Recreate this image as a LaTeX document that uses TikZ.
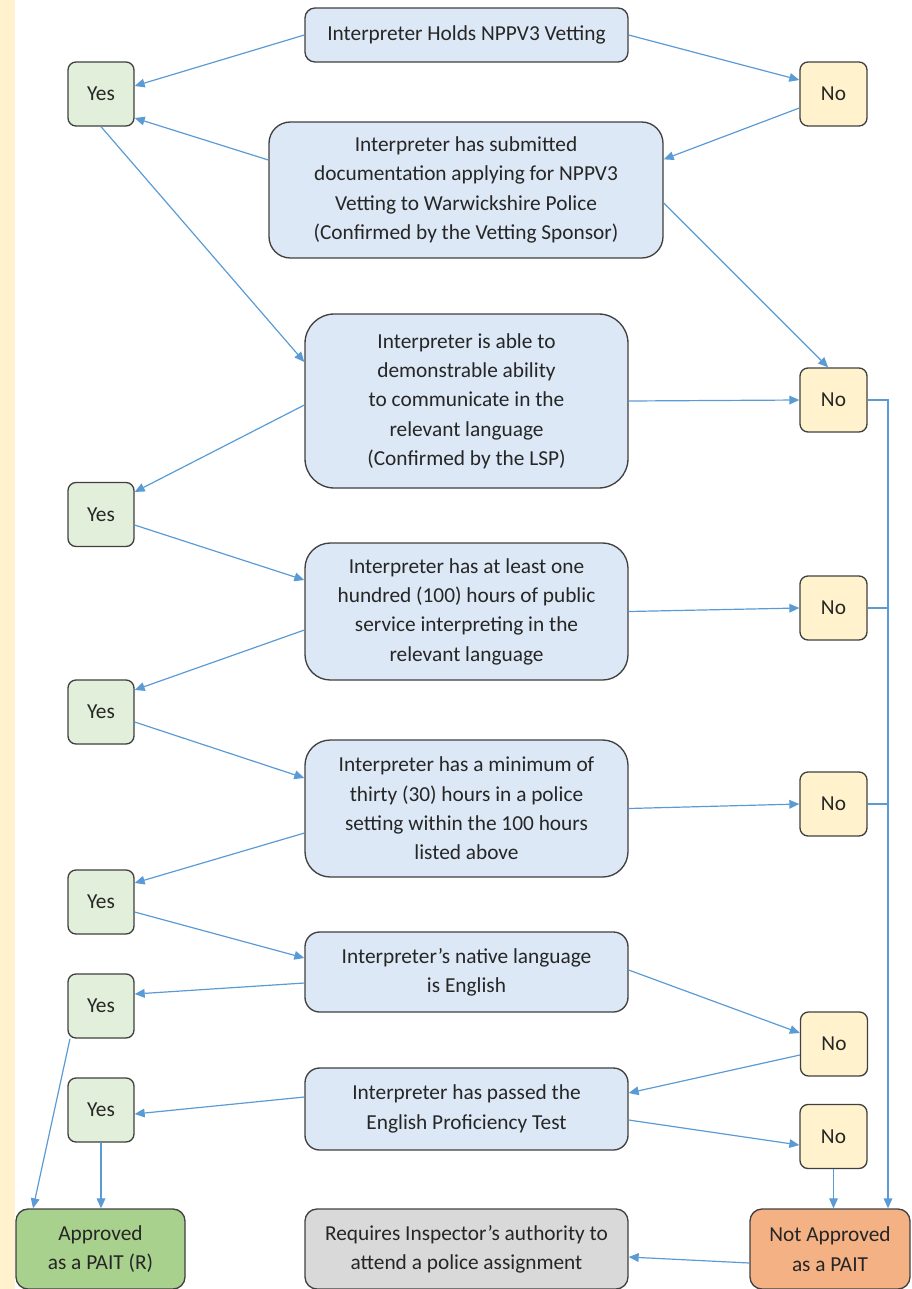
\documentclass[tikz,border=0pt]{standalone}
\usepackage{fontspec}
\setmainfont{Carlito}
\usetikzlibrary{arrows.meta,calc}
\definecolor{qfill}{HTML}{DCE8F5}
\definecolor{yfill}{HTML}{E2EFDA}
\definecolor{nfill}{HTML}{FFF2CC}
\definecolor{afill}{HTML}{A9D18E}
\definecolor{rfill}{HTML}{D9D9D9}
\definecolor{xfill}{HTML}{F4B183}
\definecolor{bord}{HTML}{404040}
\definecolor{arr}{HTML}{5B9BD5}
\definecolor{txt}{HTML}{262626}
\definecolor{strip}{HTML}{FFF2CC}
\tikzset{
  base/.style={draw=bord, line width=1pt, align=center, inner sep=0pt, text=txt,
    font=\fontsize{16}{22}\selectfont},
  sz/.style 2 args={minimum width=#1*0.75pt, minimum height=#2*0.75pt},
  qbox/.style={base, fill=qfill},
  ybox/.style={base, fill=yfill, rounded corners=6pt, sz={66}{64}},
  nbox/.style={base, fill=nfill, rounded corners=6pt, sz={67}{64}},
  conn/.style={draw=arr, line width=0.9pt, -{Triangle[length=7.5pt,width=6.5pt]}},
  plain/.style={draw=arr, line width=0.9pt}
}
\begin{document}
\begin{tikzpicture}[x=0.75pt,y=-0.75pt]
\useasboundingbox (0,0) rectangle (911,1289);
\fill[strip] (0,0) rectangle (15,1289);
% question boxes
\node[qbox, sz={323}{54}, rounded corners=7.5pt] (q1) at (466.5,35) {Interpreter Holds NPPV3 Vetting};
\node[qbox, sz={394}{136}, rounded corners=16pt] (q2) at (466,190) {Interpreter has submitted\\documentation applying for NPPV3\\Vetting to Warwickshire Police\\(Confirmed by the Vetting Sponsor)};
\node[qbox, sz={323}{174}, rounded corners=22pt] (q3) at (466.5,401) {Interpreter is able to\\demonstrable ability\\to communicate in the\\relevant language\\(Confirmed by the LSP)};
\node[qbox, sz={323}{137}, rounded corners=19pt] (q4) at (466.5,611.5) {Interpreter has at least one\\hundred (100) hours of public\\service interpreting in the\\relevant language};
\node[qbox, sz={323}{137}, rounded corners=19pt] (q5) at (466.5,808.5) {Interpreter has a minimum of\\thirty (30) hours in a police\\setting within the 100 hours\\listed above};
\node[qbox, sz={323}{80}, rounded corners=11pt] (q6) at (466.5,972) {Interpreter’s native language\\is English};
\node[qbox, sz={323}{82}, rounded corners=11pt] (q7) at (466.5,1109) {Interpreter has passed the\\English Proficiency Test};
% yes boxes
\node[ybox] (yes1) at (101,94) {Yes};
\node[ybox] (yes2) at (101,514.5) {Yes};
\node[ybox] (yes3) at (101,712) {Yes};
\node[ybox] (yes4) at (101,902) {Yes};
\node[ybox] (yes5) at (101,1006) {Yes};
\node[ybox] (yes6) at (101,1110) {Yes};
% no boxes
\node[nbox] (no1) at (833.5,94) {No};
\node[nbox] (no2) at (833.5,400) {No};
\node[nbox] (no3) at (833.5,608) {No};
\node[nbox] (no4) at (833.5,804) {No};
\node[nbox] (no5) at (834,1044) {No};
\node[nbox] (no6) at (833.5,1136.5) {No};
% outcome boxes
\node[base, fill=afill, sz={169}{80}, rounded corners=9pt] (appr) at (100.5,1249) {Approved\\as a PAIT (R)};
\node[base, fill=rfill, sz={323}{80}, rounded corners=9pt] (req) at (466.5,1249) {Requires Inspector’s authority to\\attend a police assignment};
\node[base, fill=xfill, sz={160}{80}, rounded corners=9pt] (notap) at (830,1249) {Not Approved\\as a PAIT};
\coordinate (vl) at (888,400);
% connectors
\draw[conn] (q1.west) -- ([yshift=6pt]yes1.east);
\draw[conn] (q1.east) -- ([yshift=10.5pt]no1.west);
\draw[conn] ([yshift=-10.5pt]no1.west) -- ([yshift=23pt]q2.east);
\draw[conn] ([yshift=22.5pt]q2.west) -- ([yshift=-18pt]yes1.east);
\draw[conn] (yes1.south) -- ([yshift=29.25pt]q3.west);
\draw[conn] ([yshift=-9.75pt]q2.east) -- ([xshift=-4pt]no2.north);
\draw[conn] (q3.east) -- (no2.west);
\draw[conn] (no2.east) -- (vl) -- (vl |- notap.north);
\draw[plain] (no3.east) -- (no3.east -| vl);
\draw[plain] (no4.east) -- (no4.east -| vl);
\draw[conn] ([yshift=-3pt]q3.west) -- ([yshift=16.9pt]yes2.east);
\draw[conn] ([yshift=-7.9pt]yes2.east) -- ([yshift=23.6pt]q4.west);
\draw[conn] ([yshift=-13.9pt]q4.west) -- ([yshift=16.5pt]yes3.east);
\draw[conn] ([yshift=-7.5pt]yes3.east) -- ([yshift=22.9pt]q5.west);
\draw[conn] (q4.east) -- (no3.west);
\draw[conn] (q5.east) -- (no4.west);
\draw[conn] ([yshift=-18.4pt]q5.west) -- ([yshift=14.25pt]yes4.east);
\draw[conn] ([yshift=-7.5pt]yes4.east) -- ([yshift=10.5pt]q6.west);
\draw[conn] ([yshift=-8.25pt]q6.west) -- ([yshift=9pt]yes5.east);
\draw[conn] ([yshift=1.5pt]q6.east) -- ([yshift=8.25pt]no5.west);
\draw[conn] ([yshift=-8.25pt]no5.west) -- ([yshift=12pt]q7.east);
\draw[conn] ([yshift=9pt]q7.west) -- ([yshift=-3pt]yes6.east);
\draw[conn] ([yshift=-8.25pt]q7.east) -- ([yshift=-6.4pt]no6.west);
\draw[conn] ([xshift=-23.25pt]yes5.south) -- ([xshift=-50.6pt]appr.north);
\draw[conn] (yes6.south) -- (yes6.south |- appr.north);
\draw[conn] (no6.south) -- (no6.south |- notap.north);
\draw[conn] ([yshift=-10.5pt]notap.west) -- ([yshift=-6pt]req.east);
\end{tikzpicture}
\end{document}
